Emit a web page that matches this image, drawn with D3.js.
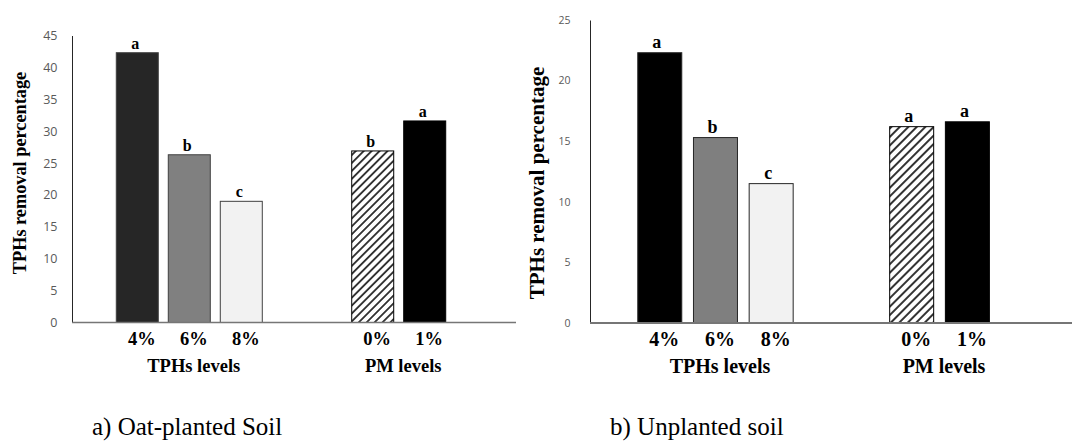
<!DOCTYPE html>
<html>
<head>
<meta charset="utf-8">
<script src="https://cdn.jsdelivr.net/npm/d3@7"></script>
<style>
  html, body { margin: 0; padding: 0; background: #fff; }
  svg { display: block; }
</style>
</head>
<body>
<svg id="chart" width="1072" height="441"></svg>
<script>
// ---------- data ----------
const groups = ["TPHs levels", "PM levels"];
const tphCats = ["4%", "6%", "8%"];
const pmCats = ["0%", "1%"];

const oatTph = [42.3, 26.3, 19.0];
const oatPm = [26.9, 31.6];
const oatTphLetters = ["a", "b", "c"];
const oatPmLetters = ["b", "a"];
const oatTicks = [0, 5, 10, 15, 20, 25, 30, 35, 40, 45];

const unTph = [22.3, 15.3, 11.5];
const unPm = [16.2, 16.6];
const unTphLetters = ["a", "b", "c"];
const unPmLetters = ["a", "a"];
const unTicks = [0, 5, 10, 15, 20, 25];

const yTitle = "TPHs removal percentage";
const captions = ["a) Oat-planted Soil", "b) Unplanted soil"];

// ---------- drawing ----------
const svg = d3.select("#chart");
const defs = svg.append("defs");

function hatch(id, spacing, sw) {
  const p = defs.append("pattern")
    .attr("id", id)
    .attr("patternUnits", "userSpaceOnUse")
    .attr("width", spacing).attr("height", spacing)
    .attr("patternTransform", "rotate(45)");
  p.append("rect").attr("width", spacing).attr("height", spacing).attr("fill", "#fff");
  p.append("line").attr("x1", 0).attr("y1", 0).attr("x2", 0).attr("y2", spacing)
    .attr("stroke", "#000").attr("stroke-width", sw);
  p.append("line").attr("x1", spacing).attr("y1", 0).attr("x2", spacing).attr("y2", spacing)
    .attr("stroke", "#000").attr("stroke-width", sw);
}
hatch("hatchA", 5.6, 1.5);
hatch("hatchB", 6.0, 1.6);

function drawChart(cfg) {
  const g = svg.append("g");
  const y = d3.scaleLinear().domain([0, cfg.yMax]).range([cfg.y0, cfg.y1]);
  const gx = d3.scalePoint().domain(groups).range([cfg.x0, cfg.x1]).padding(0.56);

  const sets = [
    { cats: tphCats, vals: cfg.tph, letters: cfg.tphL, fills: cfg.tphFills, strokes: cfg.tphStrokes },
    { cats: pmCats, vals: cfg.pm, letters: cfg.pmL, fills: cfg.pmFills, strokes: cfg.pmStrokes }
  ];

  // y axis
  const yAxis = d3.axisLeft(y).tickValues(cfg.ticks).tickSize(0).tickPadding(cfg.tickPad);
  const ya = g.append("g").attr("transform", `translate(${cfg.x0},0)`).call(yAxis);
  ya.select(".domain").attr("stroke", "#262626").attr("stroke-width", 1);
  ya.selectAll("text")
    .attr("font-family", "'Open Sans', 'DejaVu Sans', sans-serif")
    .attr("font-size", cfg.tickFont)
    .attr("fill", "#595959");

  sets.forEach((s, gi) => {
    const c = gx(groups[gi]);
    const n = s.cats.length;
    const pin = 1 - cfg.barW / cfg.step;
    const inner = d3.scaleBand().domain(s.cats)
      .range([c - n * cfg.step / 2, c + n * cfg.step / 2])
      .paddingInner(pin).paddingOuter(pin / 2);

    const data = s.cats.map((k, i) => ({ k, v: s.vals[i], l: s.letters[i], f: s.fills[i], st: s.strokes[i] }));

    g.selectAll(null).data(data).enter().append("rect")
      .attr("x", d => inner(d.k))
      .attr("y", d => y(d.v))
      .attr("width", inner.bandwidth())
      .attr("height", d => y(0) - y(d.v))
      .attr("fill", d => d.f)
      .attr("stroke", d => d.st)
      .attr("stroke-width", 1);

    g.selectAll(null).data(data).enter().append("text")
      .attr("x", d => inner(d.k) + inner.bandwidth() / 2 + cfg.letterDx)
      .attr("y", d => y(d.v) - cfg.letterGap)
      .attr("text-anchor", "middle")
      .attr("font-family", "'Liberation Serif', 'Times New Roman', serif")
      .attr("font-weight", "bold")
      .attr("font-size", cfg.letterFont)
      .attr("fill", "#000")
      .text(d => d.l);

    g.selectAll(null).data(data).enter().append("text")
      .attr("x", d => inner(d.k) + inner.bandwidth() / 2 + cfg.labelDx)
      .attr("y", cfg.catY)
      .attr("text-anchor", "middle")
      .attr("font-family", "'Liberation Serif', 'Times New Roman', serif")
      .attr("font-weight", "bold")
      .attr("font-size", cfg.labelFont)
      .attr("fill", "#000")
      .text(d => d.k);

    g.append("text")
      .attr("x", c + cfg.labelDx)
      .attr("y", cfg.groupY)
      .attr("text-anchor", "middle")
      .attr("font-family", "'Liberation Serif', 'Times New Roman', serif")
      .attr("font-weight", "bold")
      .attr("font-size", cfg.labelFont)
      .attr("fill", "#000")
      .text(groups[gi]);
  });

  // x baseline
  g.append("line")
    .attr("x1", cfg.x0).attr("x2", cfg.baseEnd)
    .attr("y1", y(0)).attr("y2", y(0))
    .attr("stroke", "#767676").attr("stroke-width", cfg.baseW);

  // y title
  g.append("text")
    .attr("transform", `translate(${cfg.titleX},${cfg.titleY}) rotate(-90)`)
    .attr("text-anchor", "middle")
    .attr("dy", "0.33em")
    .attr("font-family", "'Liberation Serif', 'Times New Roman', serif")
    .attr("font-weight", "bold")
    .attr("font-size", cfg.titleFont)
    .attr("fill", "#000")
    .text(yTitle);

  // caption
  g.append("text")
    .attr("x", cfg.capX).attr("y", cfg.capY)
    .attr("font-family", "'Liberation Serif', 'Times New Roman', serif")
    .attr("font-size", cfg.capFont)
    .attr("fill", "#000")
    .text(cfg.caption);
}

drawChart({
  tph: oatTph, pm: oatPm, tphL: oatTphLetters, pmL: oatPmLetters, ticks: oatTicks,
  yMax: 45, y0: 322.5, y1: 35.5, x0: 72, x1: 516, baseEnd: 516, baseW: 1.5,
  step: 52, barW: 42,
  tphFills: ["#262626", "#808080", "#f2f2f2"], tphStrokes: ["#404040", "#404040", "#404040"],
  pmFills: ["url(#hatchA)", "#000"], pmStrokes: ["#000", "#000"],
  tickPad: 14.5, tickFont: 12.5,
  letterFont: 16, letterGap: 4, letterDx: -2,
  labelFont: 18.5, labelDx: 4.5, catY: 345, groupY: 371.7,
  titleX: 20, titleY: 173, titleFont: 18.3,
  caption: captions[0], capX: 92, capY: 435, capFont: 25
});

drawChart({
  tph: unTph, pm: unPm, tphL: unTphLetters, pmL: unPmLetters, ticks: unTicks,
  yMax: 25, y0: 323, y1: 20, x0: 590, x1: 1065, baseEnd: 1072, baseW: 2,
  step: 55.7, barW: 44,
  tphFills: ["#000", "#7f7f7f", "#f2f2f2"], tphStrokes: ["#262626", "#262626", "#262626"],
  pmFills: ["url(#hatchB)", "#000"], pmStrokes: ["#000", "#000"],
  tickPad: 19.5, tickFont: 10.5,
  letterFont: 18, letterGap: 4.5, letterDx: -3,
  labelFont: 20, labelDx: 4.5, catY: 346, groupY: 373.3,
  titleX: 537.5, titleY: 183, titleFont: 21,
  caption: captions[1], capX: 610, capY: 435, capFont: 25
});
</script>
</body>
</html>
